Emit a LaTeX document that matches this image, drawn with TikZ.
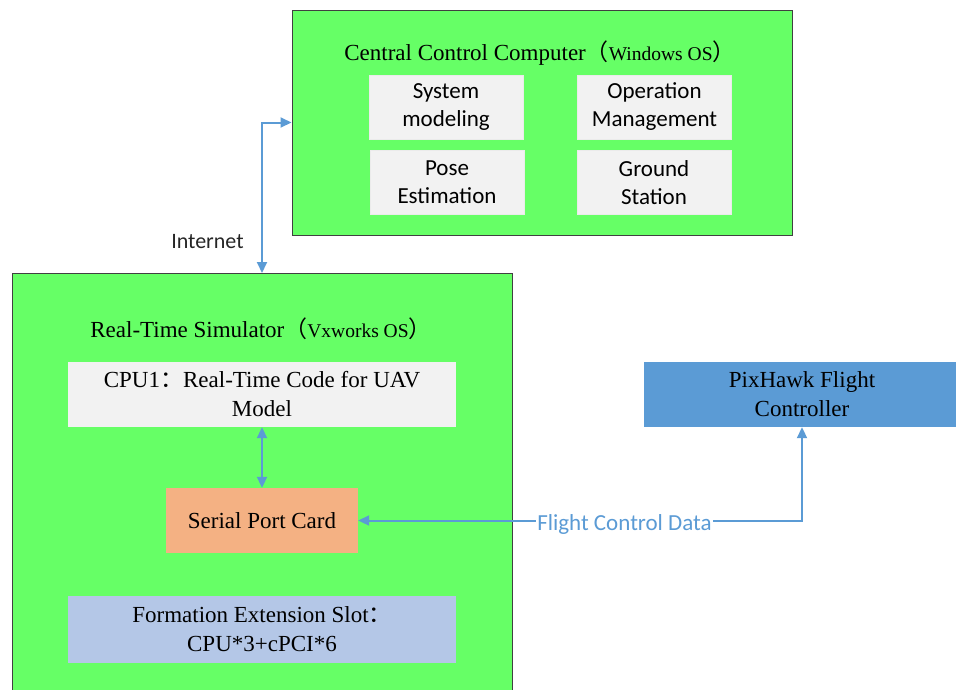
\documentclass[tikz,border=0pt]{standalone}
\usepackage{fontspec}
\setmainfont{Liberation Serif}
\newfontfamily\calib{Carlito}
\newfontfamily\cjk{Noto Sans CJK SC}
\usetikzlibrary{arrows.meta}

\definecolor{hostgreen}{HTML}{66FF66}
\definecolor{modgray}{HTML}{F2F2F2}
\definecolor{cardorange}{HTML}{F4B183}
\definecolor{slotblue}{HTML}{B4C7E7}
\definecolor{fcblue}{HTML}{5B9BD5}
\definecolor{linkblue}{HTML}{5B9BD5}

\newcommand{\fwopen}{{\cjk （}}
\newcommand{\fwclose}{{\cjk ）}}
\newcommand{\fwcolon}{{\cjk ：}}
\newcommand{\ossize}{\fontsize{19.5}{22}\selectfont}

\tikzset{
  host/.style={draw=black!75, line width=1pt, fill=hostgreen, inner sep=0pt},
  title/.style={font=\fontsize{23}{28}\selectfont},
  module/.style={fill=modgray, draw=white!92!black, line width=0.6pt,
    minimum width=154pt, minimum height=64pt, align=center,
    font=\calib\fontsize{23}{28}\selectfont},
  block/.style={minimum height=65pt, align=center, inner sep=0pt,
    font=\fontsize{23}{29}\selectfont},
  link/.style={draw=linkblue, line width=2pt, >={Triangle[length=11pt,width=10pt]}}
}

\begin{document}
\begin{tikzpicture}[x=1pt, y=-1pt]
\useasboundingbox (0,0) rectangle (956,689);

% hosts
\node[host, minimum width=500pt, minimum height=225pt] (ccc) at (542,122.5) {};
\node[host, minimum width=500pt, minimum height=430pt, anchor=north] (rts) at (262,273) {};

\node[title] (ccctitle) at (540,53) {Central Control Computer\fwopen{\ossize Windows OS}\fwclose};
\node[title] (rtstitle) at (261,329) {Real-Time Simulator\fwopen{\ossize Vxworks OS}\fwclose};

% central control modules
\node[module] (sysmod) at (446,107)   {System\\modeling};
\node[module] (opman)  at (654.5,107) {Operation\\Management};
\node[module] (pose)   at (447,182.5) {Pose\\Estimation};
\node[module] (ground) at (654,182.5) {Ground\\Station};

% simulator blocks
\node[block, fill=modgray, minimum width=388pt] (cpu) at (262,394.5)
  {CPU1\fwcolon Real-Time Code for UAV\\Model};
\node[block, fill=cardorange, minimum width=192pt] (serial) at (262,520.5) {Serial Port Card};
\node[block, fill=slotblue, minimum width=388pt, minimum height=67pt] (slot) at (262,629.5)
  {Formation Extension Slot\fwcolon\\CPU*3+cPCI*6};

\node[block, fill=fcblue, minimum width=316pt] (pix) at (802,394.5) {PixHawk Flight\\Controller};

% connectors
\draw[link,<->] (rts.north) |- (ccc.west)
  node[pos=0.11, left=14pt, yshift=-2pt, text=black!85, font=\calib\fontsize{22}{26}\selectfont] (inet) {Internet};
\draw[link,<->] (cpu) -- (serial);
\draw[link,<->] (pix.south) |- (serial.east)
  node[pos=0.7, yshift=-4pt, fill=white, inner sep=1pt, text=linkblue, font=\calib\fontsize{23}{27}\selectfont] (fcdata) {Flight Control Data};
\end{tikzpicture}
\end{document}
